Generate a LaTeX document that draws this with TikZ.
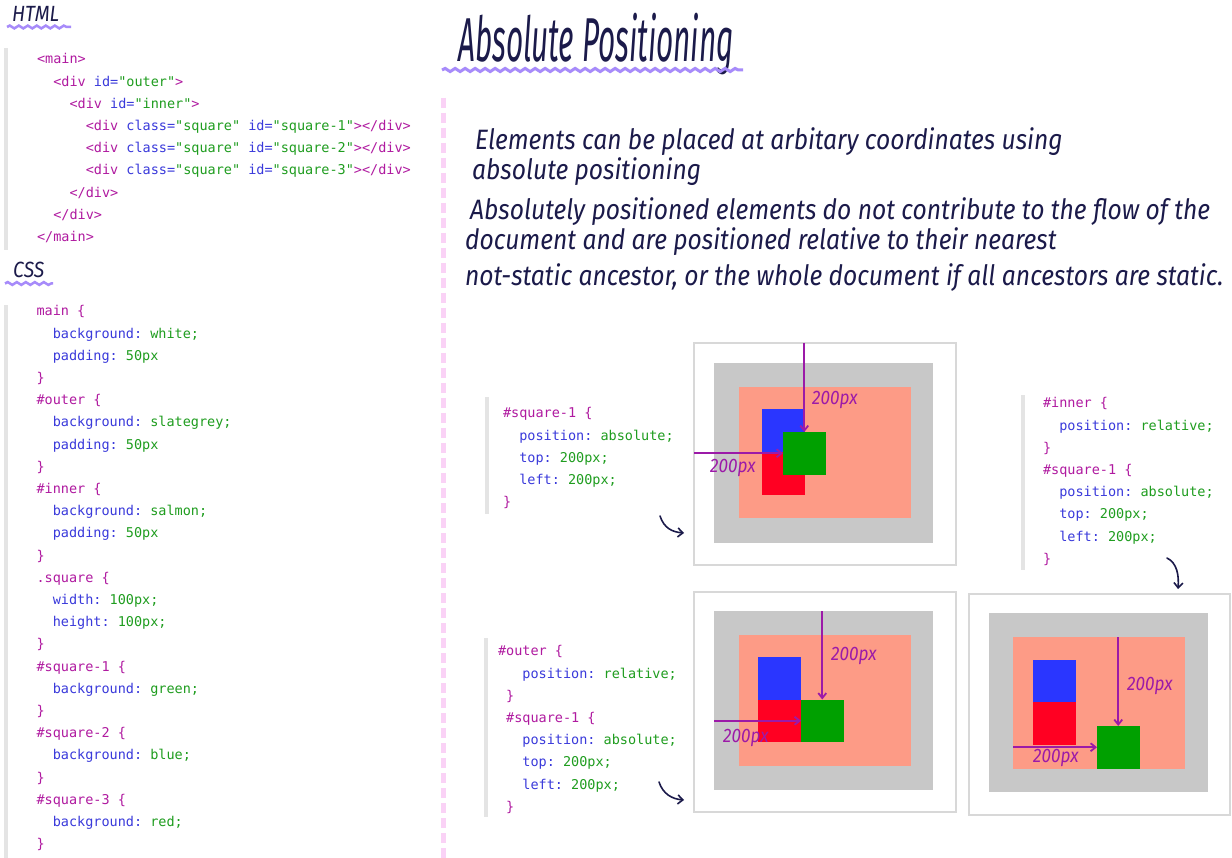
\documentclass[tikz,border=0pt]{standalone}
\usepackage{fontspec}
\setmonofont{DejaVu Sans Mono}
\newfontfamily\handfont{Fira Sans}[FakeStretch=0.88]
\newfontfamily\titlefont{Fira Sans}[FakeStretch=0.48]
\usetikzlibrary{arrows.meta}
\usetikzlibrary{decorations.pathmorphing}

\definecolor{ink}{HTML}{1B1A4A}
\definecolor{arrowpurple}{HTML}{9C1AA8}
\definecolor{wavyviolet}{HTML}{A78BFA}
\definecolor{dividerpink}{HTML}{FAD2F6}
\definecolor{codetag}{HTML}{B01AA0}
\definecolor{codeprop}{HTML}{3A3ADB}
\definecolor{codeval}{HTML}{1F9D1F}
\definecolor{bargray}{HTML}{E4E4E4}
\definecolor{framegray}{HTML}{D8D8D8}
\definecolor{outergray}{HTML}{C8C8C8}
\definecolor{salmon}{HTML}{FD9B86}
\definecolor{sqblue}{HTML}{2A36FF}
\definecolor{sqred}{HTML}{FF0022}
\definecolor{sqgreen}{HTML}{00A000}

\newcommand{\ctag}[1]{\textcolor{codetag}{#1}}
\newcommand{\cprop}[1]{\textcolor{codeprop}{#1}}
\newcommand{\cval}[1]{\textcolor{codeval}{#1}}
\newcommand{\indentby}[1]{\hspace*{#1\dimexpr0.602em\relax}}

\begin{document}
\begin{tikzpicture}[
    x=1pt, y=-1pt,
    code/.style={font=\ttfamily\fontsize{13.5}{22.2}\selectfont, align=left, anchor=north west, inner sep=0, outer sep=0},
    hand/.style={font=\handfont\itshape\fontsize{28}{32}\selectfont, text=ink, anchor=base west, inner sep=0},
    heading/.style={font=\handfont\itshape\fontsize{22}{26}\selectfont, text=ink, anchor=base west, inner sep=0},
    titletext/.style={font=\titlefont\itshape\fontsize{62}{64}\selectfont, text=ink, anchor=base west, inner sep=0},
    pxlabel/.style={font=\handfont\itshape\fontsize{19.5}{24}\selectfont, text=arrowpurple, anchor=base west, inner sep=0},
    cssbox/.style={anchor=north west, inner sep=0, outer sep=0},
    mainbox/.style={cssbox, fill=white, draw=framegray, line width=1.2},
    outerbox/.style={cssbox, fill=outergray},
    innerbox/.style={cssbox, fill=salmon},
    sqbox/.style={cssbox, minimum size=42.5},
    posarrow/.style={draw=arrowpurple, line width=1.8, -{Straight Barb[length=5pt,width=8pt]}},
    flowarrow/.style={draw=ink, line width=1.6, line cap=round, -{Straight Barb[length=5pt,width=9pt]}},
    wavy/.style={draw=wavyviolet, line width=2.5, decorate, decoration={snake, amplitude=1.4, segment length=9}},
    codebar/.style={fill=bargray},
    divider/.style={draw=dividerpink, line width=5, dash pattern=on 10pt off 5pt},
 ]
    \fill[white] (0,0) rectangle (1232,858);
    \useasboundingbox (0,0) rectangle (1232,858);

    % HTML
    \node[heading] (htmlhead) at (12,22) {HTML};
    \draw[wavy] (7,27) -- (71,27);
    \fill[codebar] (4,48) rectangle (8,250);
    \node[code] (htmlcode) at (37,53.7) {%
\ctag{<main>}\\
\indentby{2}\ctag{<div} \cprop{id=}\cval{"outer"}\ctag{>}\\
\indentby{4}\ctag{<div} \cprop{id=}\cval{"inner"}\ctag{>}\\
\indentby{6}\ctag{<div} \cprop{class=}\cval{"square"} \cprop{id=}\cval{"square-1"}\ctag{></div>}\\
\indentby{6}\ctag{<div} \cprop{class=}\cval{"square"} \cprop{id=}\cval{"square-2"}\ctag{></div>}\\
\indentby{6}\ctag{<div} \cprop{class=}\cval{"square"} \cprop{id=}\cval{"square-3"}\ctag{></div>}\\
\indentby{4}\ctag{</div>}\\
\indentby{2}\ctag{</div>}\\
\ctag{</main>}};

    % CSS
    \node[heading] (csshead) at (13,278) {CSS};
    \draw[wavy] (5,283.5) -- (53,283.5);
    \fill[codebar] (4,305) rectangle (8,858);
    \node[code] (csscode) at (36.5,305.7) {%
\ctag{main \{}\\
\indentby{2}\cprop{background:} \cval{white;}\\
\indentby{2}\cprop{padding:} \cval{50px}\\
\ctag{\}}\\
\ctag{\#outer \{}\\
\indentby{2}\cprop{background:} \cval{slategrey;}\\
\indentby{2}\cprop{padding:} \cval{50px}\\
\ctag{\}}\\
\ctag{\#inner \{}\\
\indentby{2}\cprop{background:} \cval{salmon;}\\
\indentby{2}\cprop{padding:} \cval{50px}\\
\ctag{\}}\\
\ctag{.square \{}\\
\indentby{2}\cprop{width:} \cval{100px;}\\
\indentby{2}\cprop{height:} \cval{100px;}\\
\ctag{\}}\\
\ctag{\#square-1 \{}\\
\indentby{2}\cprop{background:} \cval{green;}\\
\ctag{\}}\\
\ctag{\#square-2 \{}\\
\indentby{2}\cprop{background:} \cval{blue;}\\
\ctag{\}}\\
\ctag{\#square-3 \{}\\
\indentby{2}\cprop{background:} \cval{red;}\\
\ctag{\}}};

    \draw[divider] (443,98) -- (443,858);

    % title and notes
    \node[titletext] (title) at (458,62) {Absolute Positioning};
    \draw[wavy, line width=3, decoration={snake, amplitude=1.6, segment length=10}] (442,70) -- (743,70);
    \node[hand] (txt1) at (475,150) {Elements can be placed at arbitary coordinates using};
    \node[hand] (txt2) at (472,180) {absolute positioning};
    \node[hand] (txt3) at (470,220) {Absolutely positioned elements do not contribute to the flow of the};
    \node[hand] (txt4) at (465,250) {document and are positioned relative to their nearest};
    \node[hand] (txt5) at (465,286) {not-static ancestor, or the whole document if all ancestors are static.};

    % square-1 absolute, no positioned ancestor
    \fill[codebar] (485,397) rectangle (489,514);
    \node[code] (codeA) at (503,407.7) {%
\ctag{\#square-1 \{}\\
\indentby{2}\cprop{position:} \cval{absolute;}\\
\indentby{2}\cprop{top:} \cval{200px;}\\
\indentby{2}\cprop{left:} \cval{200px;}\\
\ctag{\}}};
    \node[mainbox, minimum width=262, minimum height=222] (mainA) at (694,343) {};
    \node[outerbox, minimum width=219, minimum height=180] (outerA) at (714,363) {};
    \node[innerbox, minimum width=172, minimum height=131] (innerA) at (739,387) {};
    \node[sqbox, fill=sqblue] (blueA) at (762,409.5) {};
    \node[sqbox, fill=sqred] (redA) at (762,452) {};
    \node[sqbox, fill=sqgreen] (greenA) at (783,432) {};
    \draw[posarrow] (greenA.north |- mainA.north) -- (greenA.north);
    \draw[posarrow] (greenA.west -| mainA.west) -- (greenA.west);
    \node[pxlabel] (lblAv) at (812,405) {200px};
    \node[pxlabel] (lblAh) at (710,472) {200px};
    \coordinate (flowAfrom) at (660,516);
    \coordinate (flowAto) at (684,533);
    \draw[flowarrow] (flowAfrom) .. controls (664,528) and (672,532) .. (flowAto);

    % outer relative
    \fill[codebar] (484,638) rectangle (488,817);
    \node[code] (codeB) at (498,645.7) {%
\ctag{\#outer \{}\\
\indentby{3}\cprop{position:} \cval{relative;}\\
\indentby{1}\ctag{\}}\\
\indentby{1}\ctag{\#square-1 \{}\\
\indentby{3}\cprop{position:} \cval{absolute;}\\
\indentby{3}\cprop{top:} \cval{200px;}\\
\indentby{3}\cprop{left:} \cval{200px;}\\
\indentby{1}\ctag{\}}};
    \node[mainbox, minimum width=262, minimum height=220] (mainB) at (694,592) {};
    \node[outerbox, minimum width=219, minimum height=179] (outerB) at (714,611) {};
    \node[innerbox, minimum width=172, minimum height=131] (innerB) at (739,635) {};
    \node[sqbox, fill=sqblue] (blueB) at (758,657) {};
    \node[sqbox, fill=sqred] (redB) at (758,699.5) {};
    \node[sqbox, fill=sqgreen] (greenB) at (801,699.5) {};
    \draw[posarrow] (greenB.north |- outerB.north) -- (greenB.north);
    \draw[posarrow] (greenB.west -| outerB.west) -- (greenB.west);
    \node[pxlabel] (lblBv) at (831,660) {200px};
    \node[pxlabel] (lblBh) at (723,742) {200px};
    \coordinate (flowBfrom) at (659,782);
    \coordinate (flowBto) at (684,800);
    \draw[flowarrow] (flowBfrom) .. controls (663,794) and (672,799) .. (flowBto);

    % inner relative
    \fill[codebar] (1021,395) rectangle (1025,570);
    \node[code] (codeC) at (1043,397.7) {%
\ctag{\#inner \{}\\
\indentby{2}\cprop{position:} \cval{relative;}\\
\ctag{\}}\\
\ctag{\#square-1 \{}\\
\indentby{2}\cprop{position:} \cval{absolute;}\\
\indentby{2}\cprop{top:} \cval{200px;}\\
\indentby{2}\cprop{left:} \cval{200px;}\\
\ctag{\}}};
    \coordinate (flowCfrom) at (1167,558);
    \coordinate (flowCto) at (1178,589);
    \draw[flowarrow] (flowCfrom) .. controls (1177,563) and (1179,575) .. (flowCto);
    \node[mainbox, minimum width=261, minimum height=221] (mainD) at (969,594) {};
    \node[outerbox, minimum width=219, minimum height=179] (outerD) at (989,613) {};
    \node[innerbox, minimum width=172, minimum height=132] (innerD) at (1013,637) {};
    \node[sqbox, fill=sqblue] (blueD) at (1033,659.5) {};
    \node[sqbox, fill=sqred] (redD) at (1033,702) {};
    \node[sqbox, fill=sqgreen] (greenD) at (1097,726) {};
    \draw[posarrow] (greenD.north |- innerD.north) -- (greenD.north);
    \draw[posarrow] (greenD.west -| innerD.west) -- (greenD.west);
    \node[pxlabel] (lblDv) at (1127,690) {200px};
    \node[pxlabel] (lblDh) at (1033,762) {200px};
\end{tikzpicture}
\end{document}
